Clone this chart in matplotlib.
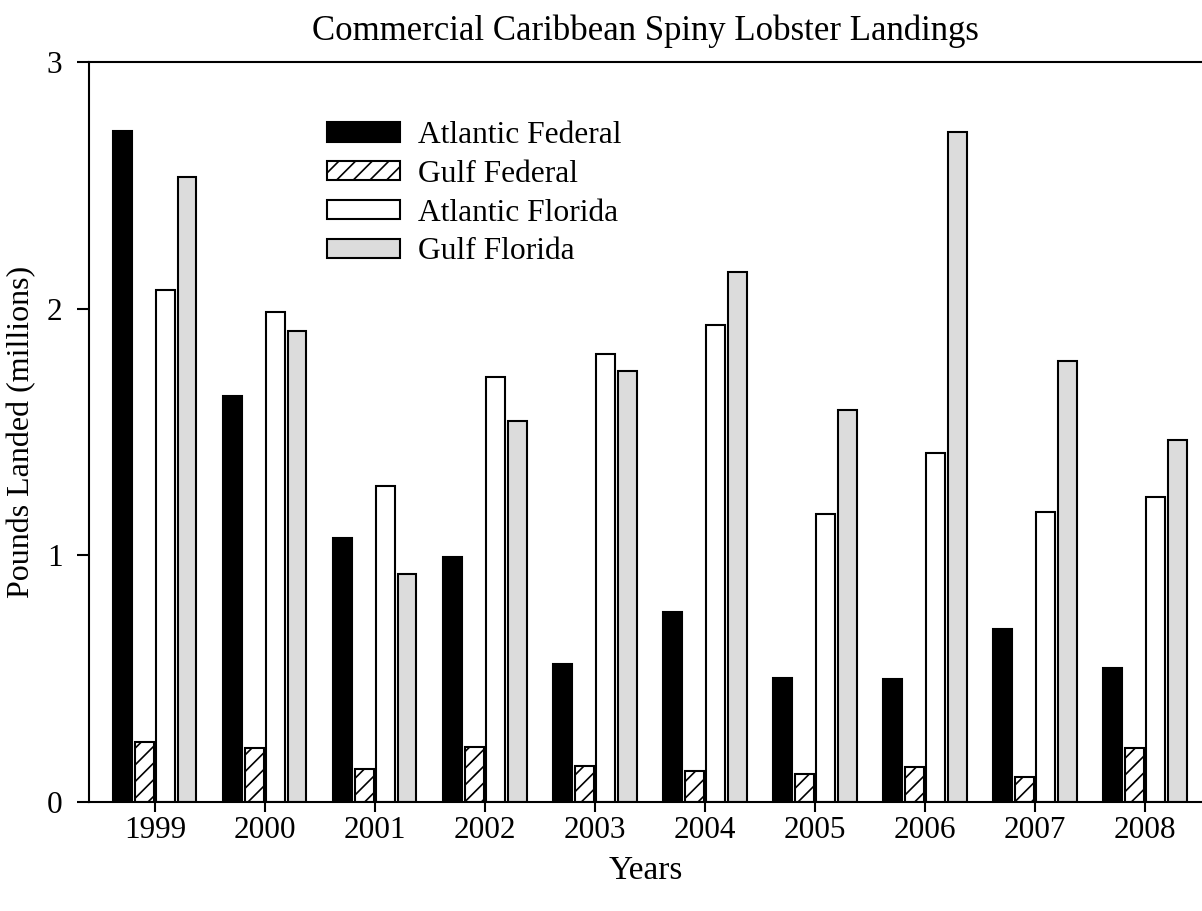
import numpy as np
import matplotlib.pyplot as plt

plt.rcParams['font.family'] = ['Liberation Serif', 'DejaVu Serif']

# pounds landed, millions
years = ['1999', '2000', '2001', '2002', '2003', '2004', '2005', '2006', '2007', '2008']
atlantic_federal = [2.72, 1.646, 1.07, 0.993, 0.558, 0.770, 0.501, 0.498, 0.701, 0.542]
gulf_federal = [0.242, 0.218, 0.133, 0.223, 0.147, 0.124, 0.113, 0.143, 0.100, 0.219]
atlantic_florida = [2.075, 1.986, 1.281, 1.723, 1.814, 1.934, 1.168, 1.413, 1.177, 1.237]
gulf_florida = [2.534, 1.909, 0.924, 1.545, 1.749, 2.148, 1.590, 2.717, 1.787, 1.466]

fig = plt.figure(figsize=(12.02, 9.11), dpi=100)
ax = fig.add_axes([0.074, 0.1197, 0.926, 0.8123])

x = np.arange(len(years))
step = 0.195
w = 0.17
plt.rcParams['hatch.linewidth'] = 1.2

ax.bar(x - 1.5 * step, atlantic_federal, w, color='black', edgecolor='black', linewidth=1.5, label='Atlantic Federal')
ax.bar(x - 0.5 * step, gulf_federal, w, color='white', edgecolor='black', linewidth=1.5, hatch='//', label='Gulf Federal')
ax.bar(x + 0.5 * step, atlantic_florida, w, color='white', edgecolor='black', linewidth=1.5, label='Atlantic Florida')
ax.bar(x + 1.5 * step, gulf_florida, w, color='#dcdcdc', edgecolor='black', linewidth=1.5, label='Gulf Florida')

ax.set_xlim(-0.6, 9.518)
ax.set_ylim(0, 3)
ax.set_xticks(x)
ax.set_xticklabels(years)
ax.set_yticks([0, 1, 2, 3])
ax.tick_params(axis='both', direction='out', width=1.5, labelsize=22.5)
ax.tick_params(axis='y', length=9, pad=10)
ax.tick_params(axis='x', length=7, pad=3)

for s in ['left', 'bottom', 'top']:
    ax.spines[s].set_linewidth(1.5)
ax.spines['right'].set_visible(False)

ax.set_title('Commercial Caribbean Spiny Lobster Landings', fontsize=25, pad=16)
ax.set_xlabel('Years', fontsize=24, labelpad=8)
ax.set_ylabel('Pounds Landed (millions)', fontsize=23, labelpad=8)

ax.legend(loc='upper left', bbox_to_anchor=(0.214, 0.92), frameon=False, fontsize=22.7,
          handlelength=2.32, handleheight=0.57, labelspacing=0.31, handletextpad=0.55,
          borderpad=0, borderaxespad=0)

fig.savefig('out.png', dpi=100)
